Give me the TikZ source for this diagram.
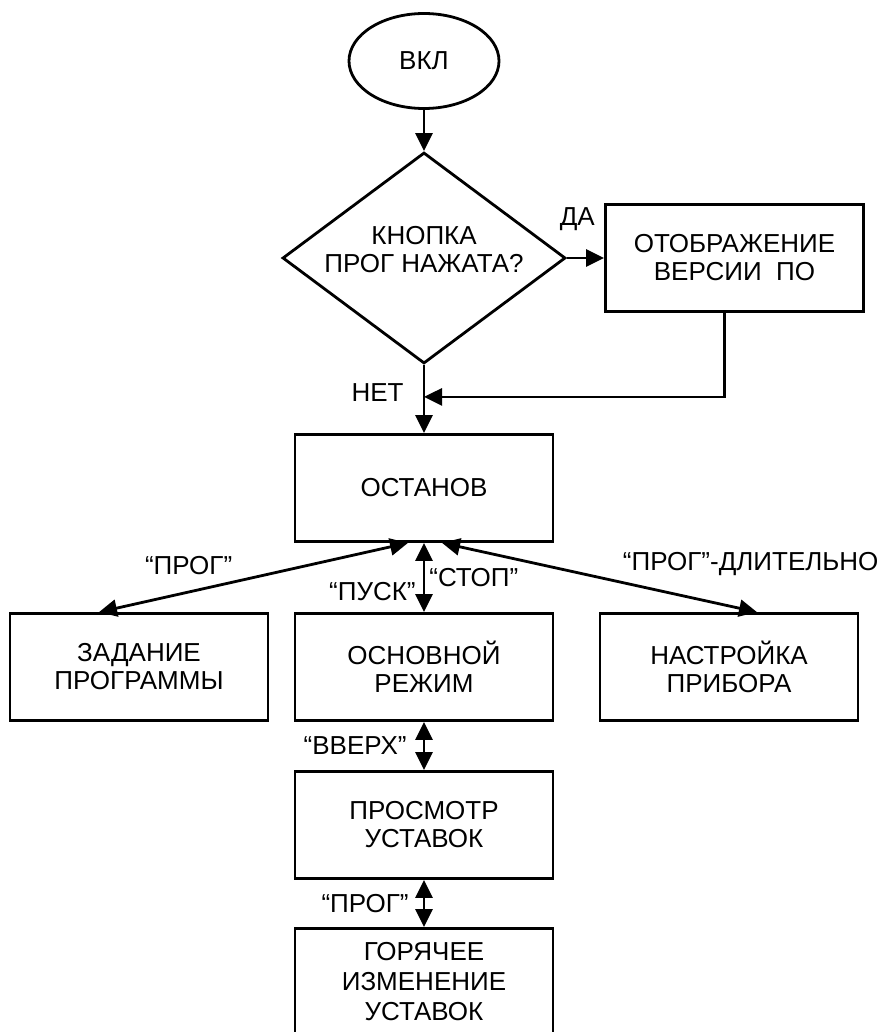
\documentclass[tikz,border=0pt]{standalone}
\usepackage{fontspec}
\setmainfont{Liberation Sans}
\usetikzlibrary{positioning, shapes.geometric, arrows.meta}

\begin{document}
\begin{tikzpicture}[x=0.5pt, y=-0.5pt, line width=1.4pt,
		>={Triangle[length=9pt, width=8.5pt]},
		every node/.style={font=\fontsize{13}{14}\selectfont},
		t/.style={ellipse, draw, minimum width=75pt, minimum height=47.5pt, inner sep=0pt},
		d/.style={diamond, draw, aspect=1.34, minimum width=141.5pt, minimum height=105.5pt, inner sep=0pt},
		b/.style={rectangle, draw, minimum width=129pt, minimum height=53.5pt, align=center},
		l/.style={inner sep=1pt}]
		\useasboundingbox (0,0) rectangle (882,1032);

		\node[t] (start) at (424,61) {ВКЛ};
		\node[d, below=20.6pt of start, label={[align=center, yshift=4pt]center:{КНОПКА\\ПРОГ НАЖАТА?}}] (dec) {};
		\node[b, right=18.6pt of dec] (ver) {ОТОБРАЖЕНИЕ\\ВЕРСИИ\ \ ПО};
		\node[b, below=34.1pt of dec] (stop) {ОСТАНОВ};
		\node[b, below=34.6pt of stop] (main) {ОСНОВНОЙ\\РЕЖИМ};
		\node[b, left=12.1pt of main] (prog) {ЗАДАНИЕ\\ПРОГРАММЫ};
		\node[b, right=22.1pt of main] (setup) {НАСТРОЙКА\\ПРИБОРА};
		\node[b, below=24.1pt of main] (view) {ПРОСМОТР\\УСТАВОК};
		\node[b, below=23.6pt of view, font=\fontsize{13}{15}\selectfont] (hot) {ГОРЯЧЕЕ\\ИЗМЕНЕНИЕ\\УСТАВОК};
		\coordinate[below=16pt of dec.south] (j);

		\path[->] (start) edge (dec);
		\path[->] (dec) edge node[l, pos=0.28, yshift=19.5pt] {ДА} (ver);
		\path[->] (dec) edge node[l, pos=0.4, left=8.5pt] {НЕТ} (stop);
		\draw[->] ([xshift=-5pt]ver.south) |- (j);
		\path[<->] ([xshift=-8pt]stop.south) edge node[l, pos=0.71, yshift=13pt] {“ПРОГ”} ([xshift=-20pt]prog.north);
		\path[<->] (stop) edge node[l, pos=0.7, left=2.5pt] {“ПУСК”} node[l, pos=0.5, right=1pt] {“СТОП”} (main);
		\path[<->] ([xshift=9pt]stop.south) edge node[l, pos=0.98, yshift=23.5pt] {“ПРОГ”-ДЛИТЕЛЬНО} ([xshift=14pt]setup.north);
		\path[<->] (main) edge node[l, left=7pt] {“ВВЕРХ”} (view);
		\path[<->] (view) edge node[l, left=6pt] {“ПРОГ”} (hot);
	\end{tikzpicture}
\end{document}
